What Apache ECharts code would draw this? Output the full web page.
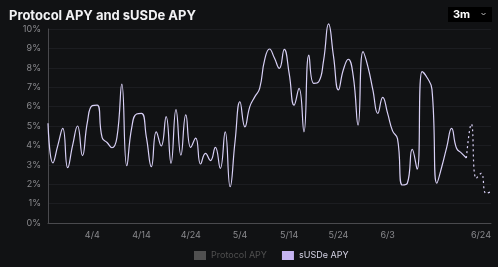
<!DOCTYPE html>
<html>
<head>
<meta charset="utf-8">
<script src="https://cdn.jsdelivr.net/npm/echarts@6/dist/echarts.min.js"></script>
<style>
html,body{margin:0;padding:0;background:#111214;}
#c{width:498px;height:267px;}
</style>
</head>
<body>
<div id="c"></div>
<script>
// Dates from 3/26 to 6/24 (daily)
const dates = [];
(function(){
  const d = new Date(2024, 2, 26);
  for (let i = 0; i < 91; i++) {
    dates.push((d.getMonth() + 1) + '/' + d.getDate());
    d.setDate(d.getDate() + 1);
  }
})();
const shownLabels = ['4/4','4/14','4/24','5/4','5/14','5/24','6/3','6/24'];
const yTicks = [0,1,2,3,4,5,6,7,8,9,10];

// sUSDe APY (%)
const susdeApy = [
  5.14, 3.1, 4.0, 4.88, 2.85, 4.0, 5.0, 3.47, 5.2, 6.05,
  6.08, 4.4, 4.15, 3.88, 4.4, 7.16, 2.95, 4.9, 5.62, 5.65,
  4.4, 2.9, 4.7, 3.97, 5.48, 3.08, 5.84, 3.5, 5.57, 3.9,
  4.37, 3.04, 3.59, 3.22, 3.9, 2.82, 4.7, 1.87, 4.2, 6.25,
  4.96, 6.0, 6.5, 6.94, 8.4, 8.97, 8.5, 7.97, 8.95, 7.7,
  6.08, 6.94, 4.7, 8.66, 7.2, 7.28, 8.4, 10.26, 8.6, 6.86,
  7.9, 8.44, 7.6, 5.05, 8.83, 8.05, 6.86, 5.65, 6.48, 5.65,
  4.75, 4.35, 1.96, 2.05, 3.8, 2.77, 7.8, 7.5, 6.9, 2.05,
  2.9, 3.9, 4.88, 3.85, 3.6, 3.35, 5.1, 2.3, 2.56, 1.53,
  1.61
];
const forecastStart = 85;
const protocolApy = [];

const solid = susdeApy.map((v, i) => i <= forecastStart ? v : null);
const dashed = susdeApy.map((v, i) => i >= forecastStart ? v : null);

const chart = echarts.init(document.getElementById('c'));
chart.setOption({
  backgroundColor: '#111214',
  animation: false,
  textStyle: { fontFamily: 'Inter, Lato, sans-serif' },
  title: {
    text: 'Protocol APY and sUSDe APY',
    left: 4, top: 5,
    textStyle: { color: '#f2f2f4', fontSize: 13, fontWeight: 'bold', fontFamily: 'Inter, sans-serif' }
  },
  graphic: [
    { type: 'rect', shape: { x: 448, y: 7, width: 44, height: 15 }, style: { fill: '#000000' } },
    { type: 'text', style: { x: 453, y: 14.5, text: '3m', fill: '#ffffff', font: 'bold 11px Inter, sans-serif', verticalAlign: 'middle' } },
    { type: 'polyline', shape: { points: [[481.5, 13], [483.5, 15], [485.5, 13]] }, style: { stroke: '#bbbbbb', lineWidth: 1, fill: null } }
  ],
  legend: {
    bottom: 2, left: 189,
    icon: 'rect', itemWidth: 12, itemHeight: 9, itemGap: 15,
    inactiveColor: '#505050',
    textStyle: { color: '#d4d2e4', fontSize: 9 },
    data: [
      { name: 'Protocol APY', itemStyle: { color: '#505050' } },
      { name: 'sUSDe APY', itemStyle: { color: '#c6b4f2' } }
    ],
    selected: { 'Protocol APY': false, 'sUSDe APY': true }
  },
  grid: { left: 48, right: 7, top: 29, bottom: 44, containLabel: false },
  xAxis: {
    type: 'category',
    data: dates,
    boundaryGap: false,
    axisLine: { show: true, lineStyle: { color: '#4a4a4e', width: 1 } },
    axisTick: { show: false },
    splitLine: { show: false },
    axisLabel: {
      color: '#8a8a8e', fontSize: 9, margin: 8,
      interval: (i, v) => shownLabels.indexOf(v) >= 0,
      showMaxLabel: true,
      alignMaxLabel: 'right'
    }
  },
  yAxis: {
    type: 'value',
    min: yTicks[0], max: yTicks[yTicks.length - 1], interval: 1,
    axisLine: { show: true, lineStyle: { color: '#4a4a4e', width: 1 } },
    axisTick: { show: false },
    splitLine: { show: true, lineStyle: { color: '#1c1d21', width: 1 } },
    axisLabel: { color: '#8a8a8e', fontSize: 9, margin: 7, formatter: '{value}%' }
  },
  series: [
    {
      name: 'Protocol APY', type: 'line', data: protocolApy,
      itemStyle: { color: '#505050' }, showSymbol: false
    },
    {
      name: 'sUSDe APY', type: 'line', data: solid, clip: false,
      smooth: 0.5, showSymbol: false, connectNulls: false,
      lineStyle: { color: '#d8d0f6', width: 1.2 },
      itemStyle: { color: '#c6b4f2' }
    },
    {
      name: 'sUSDe APY', type: 'line', data: dashed, clip: false,
      smooth: 0.5, showSymbol: false, connectNulls: false,
      lineStyle: { color: '#d8d0f6', width: 1.2, type: [2, 3] },
      itemStyle: { color: '#c6b4f2' }
    }
  ]
});
</script>
</body>
</html>
